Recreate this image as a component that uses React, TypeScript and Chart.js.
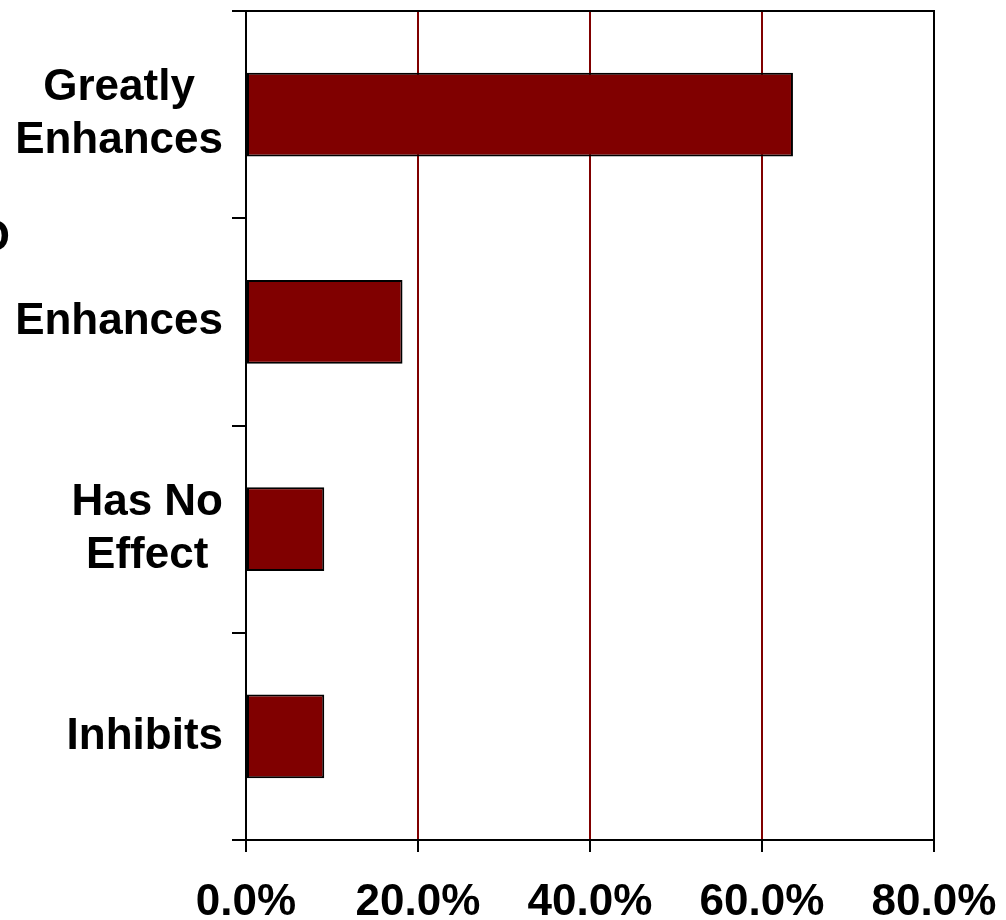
import React, { useEffect, useRef } from 'react';
import { Chart, registerables } from 'chart.js';

Chart.register(...registerables);

const categories: string[][] = [['Greatly', 'Enhances'], ['Enhances'], ['Has No', 'Effect'], ['Inhibits']];
const values = [63.6, 18.2, 9.1, 9.1];
const xMin = 0;
const xMax = 80;
const xStep = 20;
const cutTitle = 'O';

const FONT = '"Liberation Sans", Arial, Helvetica, sans-serif';
const DARK_RED = '#800000';
const LABEL_FONT_SIZE = 44;
const LINE_HEIGHT = 52.8;

export default function App() {
  const ref = useRef<HTMLCanvasElement>(null);

  useEffect(() => {
    if (!ref.current) return;
    const framePlugin = {
      id: 'frame',
      afterDraw(chart: any) {
        const { ctx, chartArea: a } = chart;
        ctx.save();
        ctx.strokeStyle = '#000';
        ctx.lineWidth = 2;
        ctx.beginPath();
        ctx.moveTo(a.left, a.top);
        ctx.lineTo(a.right, a.top);
        ctx.lineTo(a.right, a.bottom);
        ctx.stroke();

        ctx.fillStyle = '#000';
        ctx.font = `bold ${LABEL_FONT_SIZE}px ${FONT}`;
        ctx.textBaseline = 'alphabetic';
        ctx.textAlign = 'right';
        ctx.fillText(cutTitle, 10, 251);

        // category labels: block right-aligned, lines centred within block
        const yScale = chart.scales.y;
        const blockRight = a.left - 14 - 9;
        ctx.textAlign = 'center';
        ctx.textBaseline = 'middle';
        categories.forEach((lines, i) => {
          const cy = yScale.getPixelForTick(i);
          const w = Math.max(...lines.map((l) => ctx.measureText(l).width));
          const cx = blockRight - w / 2;
          lines.forEach((l, j) => {
            ctx.fillText(l, cx, cy + (j - (lines.length - 1) / 2) * LINE_HEIGHT);
          });
        });
        ctx.restore();
      },
    };

    const chart = new Chart(ref.current, {
      type: 'bar',
      data: {
        labels: categories,
        datasets: [
          {
            data: values,
            backgroundColor: DARK_RED,
            borderColor: '#000',
            borderWidth: 2,
            borderSkipped: false,
            barPercentage: 0.405,
            categoryPercentage: 1,
          },
        ],
      },
      options: {
        indexAxis: 'y',
        responsive: false,
        maintainAspectRatio: false,
        devicePixelRatio: 1,
        animation: false,
        layout: { padding: { top: 11, right: 72, left: 0, bottom: 0 } },
        plugins: {
          legend: { display: false },
          tooltip: { enabled: false },
          title: { display: false },
        },
        scales: {
          x: {
            type: 'linear',
            min: xMin,
            max: xMax,
            ticks: {
              stepSize: xStep,
              callback: (v: any) => Number(v).toFixed(1) + '%',
              font: { family: FONT, size: LABEL_FONT_SIZE, weight: 'bold' },
              color: '#000',
              padding: 24,
              maxRotation: 0,
            },
            grid: {
              color: (c: any) => {
                const v = c.tick ? c.tick.value : 0;
                return v > xMin && v < xMax ? DARK_RED : '#000';
              },
              lineWidth: 2,
              tickColor: '#000',
              tickLength: 12,
            },
            border: { color: '#000', width: 2 },
            afterFit: (s: any) => {
              s.height = 80;
              s.paddingLeft = 0;
              s.paddingRight = 0;
            },
          },
          y: {
            type: 'category',
            ticks: { display: false },
            grid: {
              drawOnChartArea: false,
              color: '#000',
              tickColor: '#000',
              tickLength: 14,
              lineWidth: 2,
              offset: true,
            },
            border: { color: '#000', width: 2 },
            afterFit: (s: any) => {
              s.width = 246;
              s.paddingTop = 0;
              s.paddingBottom = 0;
            },
          },
        },
      },
      plugins: [framePlugin],
    } as any);

    return () => chart.destroy();
  }, []);

  return (
    <div style={{ position: 'absolute', left: 0, top: 0, width: 1006, height: 920, background: '#fff' }}>
      <canvas ref={ref} width={1006} height={920} style={{ display: 'block', width: 1006, height: 920 }} />
    </div>
  );
}
